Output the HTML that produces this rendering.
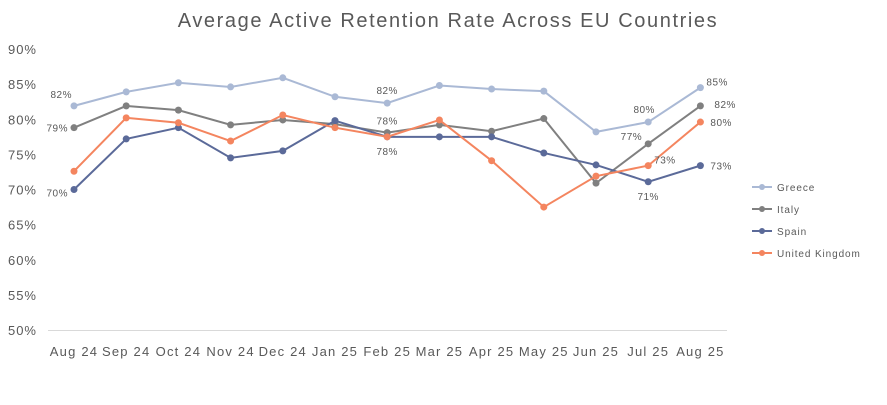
<!DOCTYPE html>
<html><head><meta charset="utf-8"><style>
body{margin:0;background:#fff;font-family:"Liberation Sans",sans-serif}
svg text{font-family:"Liberation Sans",sans-serif}
</style></head><body>
<svg width="887" height="400" xmlns="http://www.w3.org/2000/svg">
<rect width="887" height="400" fill="#fff"/>
<text x="448" y="27" text-anchor="middle" font-size="20" letter-spacing="1.6" fill="#595959">Average Active Retention Rate Across EU Countries</text>
<g id="axes"></g><g id="series"></g><g id="legend"></g>
</svg>
<script>
const categories=["Aug 24","Sep 24","Oct 24","Nov 24","Dec 24","Jan 25","Feb 25","Mar 25","Apr 25","May 25","Jun 25","Jul 25","Aug 25"];
const yTicks=[50,55,60,65,70,75,80,85,90];
const seriesNames=["Greece","Italy","Spain","United Kingdom"];
const greece=[81.9,83.9,85.2,84.6,85.9,83.2,82.3,84.8,84.3,84.0,78.2,79.6,84.5];
const italy=[78.8,81.9,81.3,79.2,79.9,79.3,78.1,79.2,78.3,80.1,70.9,76.5,81.9];
const spain=[70.0,77.2,78.8,74.5,75.5,79.8,77.5,77.5,77.5,75.2,73.5,71.1,73.4];
const uk=[72.6,80.2,79.5,76.9,80.6,78.8,77.5,79.9,74.1,67.5,71.9,73.4,79.6];
const colors=["#aab9d5","#808080","#5b6a99","#f4855f"];
const NS="http://www.w3.org/2000/svg";
const x=i=>74+i*52.2;
const y=v=>330-(v-50)*7.025;
function mk(tag,attrs,parent,text){const e=document.createElementNS(NS,tag);for(const k in attrs)e.setAttribute(k,attrs[k]);if(text!==undefined)e.textContent=text;parent.appendChild(e);return e;}
const axes=document.getElementById('axes');
yTicks.forEach(t=>{const e=mk('text',{x:37,y:y(t)+5,'text-anchor':'end','font-size':13,'letter-spacing':1,fill:'#595959'},axes,t+'%');

});
const ax=mk('line',{x1:48,x2:727,y1:330.5,y2:330.5,stroke:'#d9d9d9'},axes);


categories.forEach((c,i)=>{const e=mk('text',{x:x(i),y:356,'text-anchor':'middle','font-size':13,'letter-spacing':1.2,fill:'#595959'},axes,c);

});
const all=[greece,italy,spain,uk];
const sg=document.getElementById('series');
all.forEach((d,s)=>{
 const g=mk('g',{},sg);
 
 
 mk('polyline',{points:d.map((v,i)=>x(i)+','+y(v)).join(' '),fill:'none',stroke:colors[s],'stroke-width':2},g);
 d.forEach((v,i)=>{const p=mk('circle',{cx:x(i),cy:y(v),r:3.5,fill:colors[s]},g);
 
 });
});
const labels=[[0,0,-2,-8,'end'],[0,6,0,-9,'middle'],[0,11,-4,-9,'middle'],[0,12,6,-2,'start'],
[1,0,-6,4,'end'],[1,6,0,-8,'middle'],[1,11,-6,-4,'end'],[1,12,14,2,'start'],
[2,0,-6,7,'end'],[2,6,0,18,'middle'],[2,11,0,18,'middle'],[2,12,10,4,'start'],
[3,11,6,-2,'start'],[3,12,10,4,'start']];
labels.forEach(([s,i,dx,dy,a])=>{const v=all[s][i];
 const t=mk('text',{x:x(i)+dx,y:y(v)+dy,'text-anchor':a,'font-size':10,'letter-spacing':0.5,fill:'#595959'},sg,Math.round(v)+'%');
 
 });
const lg=document.getElementById('legend');
seriesNames.forEach((n,s)=>{const yy=187+s*22;
 const g=mk('g',{},lg);
 
 
 mk('line',{x1:752,x2:772,y1:yy,y2:yy,stroke:colors[s],'stroke-width':2},g);
 mk('circle',{cx:762,cy:yy,r:3,fill:colors[s]},g);
 mk('text',{x:777,y:yy+4,'font-size':10,'letter-spacing':0.9,fill:'#595959'},g,n);});
</script>
</body></html>
